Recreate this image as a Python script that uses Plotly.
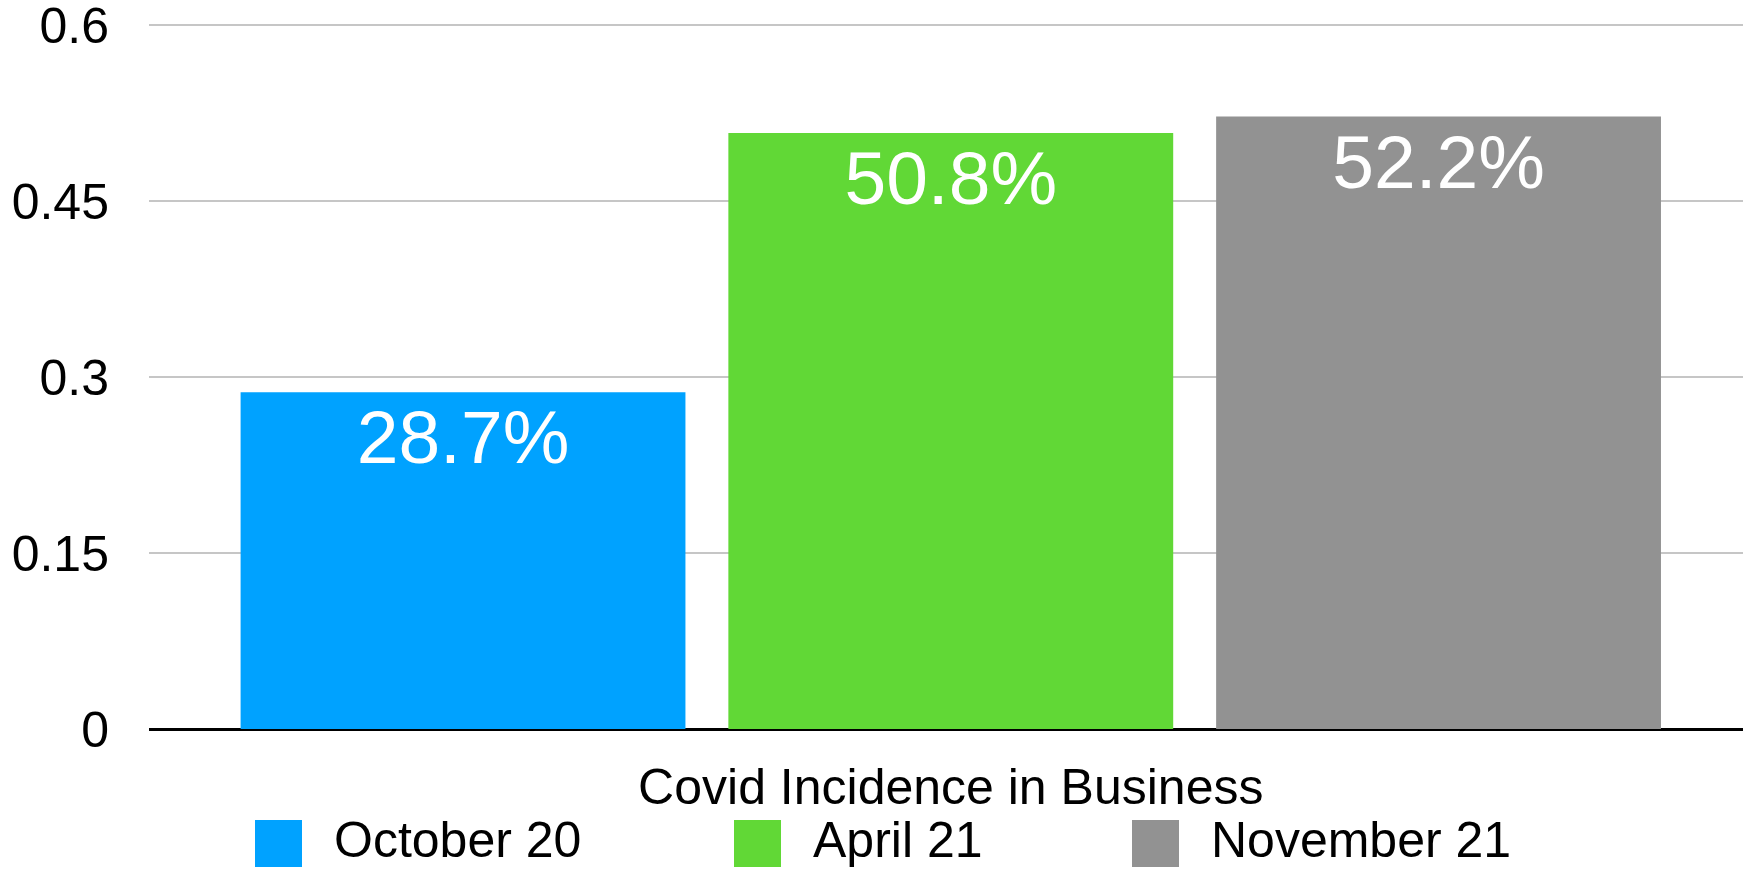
import plotly.graph_objects as go

# ---- data ----
category = ["Covid Incidence in Business"]
series_names = ["October 20", "April 21", "November 21"]
series_values = [0.287, 0.508, 0.522]
series_colors = ["#00A2FF", "#61D836", "#929292"]
y_ticks = [0, 0.15, 0.3, 0.45, 0.6]
y_tick_labels = ["0", "0.15", "0.3", "0.45", "0.6"]

W, H = 1743, 870
ML, MR, MT, MB = 149, 0, 22, 141
FONT = "Liberation Sans, Arial, Helvetica, sans-serif"
Y_TOP = 0.6 + 3 * 0.6 / 704  # tiny headroom so the 0.6 gridline is drawn
X_SHIFT = 0.003              # group sits slightly right of centre

fig = go.Figure()
for name, val, col in zip(series_names, series_values, series_colors):
    fig.add_trace(go.Bar(
        x=category, y=[val], name=name,
        marker=dict(color=col, line=dict(width=0)),
        texttemplate="%{y:.1%}",
        textposition="inside",
        insidetextanchor="end",
        textangle=0,
        textfont=dict(color="white", size=75, family=FONT),
        showlegend=False,
    ))

# manual legend (large swatches like the original)
pw = W - ML - MR
ph = H - MT - MB
def px2x(px):
    return (px - ML) / pw
def py2y(py):
    return (H - MB - py) / ph

swatch_left = [255, 734, 1132]
sw = 47
for name, col, sl in zip(series_names, series_colors, swatch_left):
    fig.add_shape(type="rect", xref="paper", yref="paper",
                  x0=px2x(sl), x1=px2x(sl + sw), y0=py2y(867), y1=py2y(820),
                  fillcolor=col, line=dict(width=0), layer="above")
    fig.add_annotation(xref="paper", yref="paper", x=px2x(sl + sw + 31), y=py2y(869),
                       xanchor="left", yanchor="bottom", text=name, showarrow=False,
                       font=dict(size=50, color="black", family=FONT),
                       borderpad=0)

fig.update_layout(
    width=W, height=H,
    margin=dict(l=ML, r=MR, t=MT, b=MB, pad=0),
    paper_bgcolor="white", plot_bgcolor="white",
    barmode="group", bargap=0.082, bargroupgap=0.088,
    font=dict(family=FONT, size=50, color="black"),
    showlegend=False,
    uniformtext=dict(mode=False),
)
fig.update_xaxes(
    type="category", range=[-0.5 - X_SHIFT, 0.5 - X_SHIFT],
    showgrid=False, showline=True, linecolor="black", linewidth=2,
    ticks="", tickfont=dict(size=50, color="black", family=FONT),
    ticklabelstandoff=13, automargin=False, fixedrange=True,
)
fig.update_yaxes(
    range=[0, Y_TOP], tickmode="array", tickvals=y_ticks, ticktext=y_tick_labels,
    showgrid=True, gridcolor="#c6c6c6", gridwidth=2,
    zeroline=True, zerolinecolor="black", zerolinewidth=2,
    showline=False, ticks="", ticklabelstandoff=39, ticklabeloverflow="allow",
    tickfont=dict(size=50, color="black", family=FONT),
    automargin=False, fixedrange=True,
)

fig.write_html(
    "out.html",
    config={"displayModeBar": False},
    post_script="document.body.style.margin='0';document.body.style.overflow='hidden';",
)
